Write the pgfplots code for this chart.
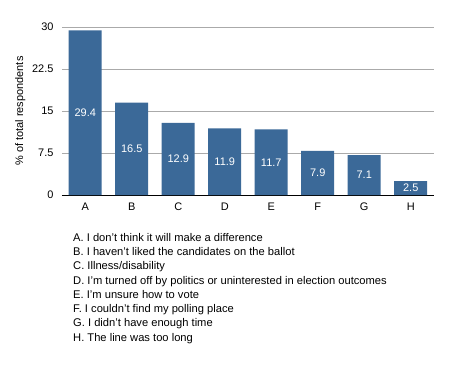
\documentclass[border=0pt]{standalone}
\usepackage{fontspec}
\setmainfont{Liberation Sans}
\usepackage{pgfplots}
\pgfplotsset{compat=1.18}
\definecolor{barblue}{RGB}{59,105,152}
\definecolor{gridgray}{RGB}{170,170,170}
\begin{document}
\begin{tikzpicture}[x=1bp,y=1bp]
\path[use as bounding box] (-62bp,-174bp) rectangle (388bp,195bp);
\begin{axis}[
  scale only axis,
  width=372bp, height=168bp,
  xmin=-0.5, xmax=7.5,
  ymin=0, ymax=30,
  xtick={0,1,2,3,4,5,6,7},
  xticklabels={A,B,C,D,E,F,G,H},
  ytick={0,7.5,15,22.5,30},
  /pgf/number format/assume math mode=true,
  axis x line*=bottom,
  axis y line*=left,
  y axis line style={draw=none},
  ymajorgrids,
  grid style={gridgray, line width=0.8pt},
  x axis line style={black, line width=0.9pt, -},
  xtick style={draw=none},
  ytick style={draw=none},
  tick label style={font=\fontsize{11}{13}\selectfont},
  xticklabel style={yshift=-4bp},
  yticklabel style={xshift=-5bp},
  ylabel={\% of total respondents},
  ylabel style={font=\fontsize{11}{13}\selectfont, yshift=0bp},
  clip=false,
]
\addplot[ybar, bar width=33bp, fill=barblue, draw=none,
  nodes near coords,
  visualization depends on={rawy \as \rawy},
  every node near coord/.append style={white, font=\fontsize{11}{13}\selectfont, anchor=center, shift={(axis direction cs:0,-\rawy/2)}},
] coordinates {
  (0,29.4) (1,16.5) (2,12.9) (3,11.9) (4,11.7) (5,7.9) (6,7.1) (7,2.5)
};
\end{axis}
\node[anchor=north west, inner sep=0pt, align=left, font=\fontsize{11.2}{14.3}\selectfont] at (11bp,-38bp) {%
A. I don't think it will make a difference\\
B. I haven't liked the candidates on the ballot\\
C. Illness/disability\\
D. I'm turned off by politics or uninterested in election outcomes\\
E. I'm unsure how to vote\\
F. I couldn't find my polling place\\
G. I didn't have enough time\\
H. The line was too long};
\end{tikzpicture}
\end{document}
